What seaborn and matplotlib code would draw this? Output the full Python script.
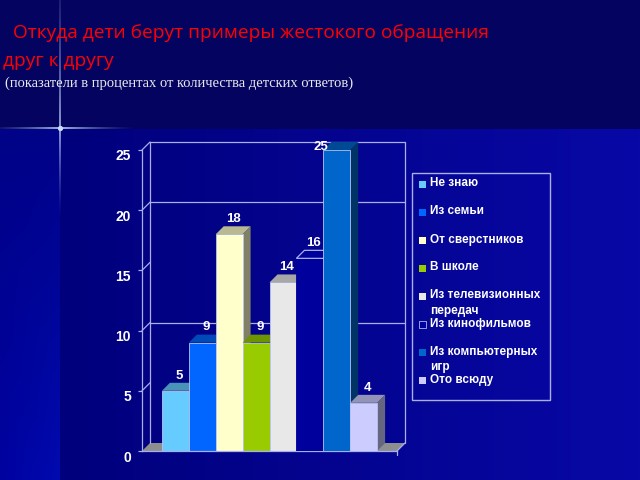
import numpy as np
import pandas as pd
import matplotlib
matplotlib.use("Agg")
import matplotlib.pyplot as plt
import seaborn as sns
from matplotlib.patches import Polygon, Rectangle
from matplotlib.collections import LineCollection
from matplotlib import font_manager as fm
from matplotlib.transforms import ScaledTranslation
import matplotlib.colors as mcolors

# ---------------- data ----------------
title_line1 = " Откуда дети берут примеры жестокого обращения"
title_line2 = "друг к другу"
subtitle = "(показатели в процентах от количества детских ответов)"
categories = ["Не знаю", "Из семьи", "От сверстников", "В школе",
              "Из телевизионных передач", "Из кинофильмов",
              "Из компьютерных игр", "Ото всюду"]
legend_labels = ["Не знаю", "Из семьи", "От сверстников", "В школе",
                 "Из телевизионных\nпередач", "Из кинофильмов",
                 "Из компьютерных\nигр", "Ото всюду"]
values = [5, 9, 18, 9, 14, 16, 25, 4]
colors = ["#66CCFF", "#0066FF", "#FFFFCC", "#99CC00",
          "#E8E8E8", "#00009C", "#0066CC", "#CCCCFF"]
y_ticks = [0, 5, 10, 15, 20, 25]
grid_levels = [10, 20]

df = pd.DataFrame({"category": categories, "value": values})

# ---------------- style ----------------
sns.set_theme(style="white")


def has_font(name):
    try:
        fm.findfont(fm.FontProperties(family=name), fallback_to_default=False)
        return True
    except Exception:
        return False


narrow = "Liberation Sans Narrow" if has_font("Liberation Sans Narrow") else "Liberation Sans"
plt.rcParams["font.family"] = ["Liberation Sans", "DejaVu Sans"]

LAV = "#A8B0EC"
W, H = 640, 480
fig = plt.figure(figsize=(6.4, 4.8), dpi=100)

# ---------------- background ----------------
bg = fig.add_axes([0, 0, 1, 1])
bg.set_xlim(0, W)
bg.set_ylim(H, 0)
bg.axis("off")
img = np.zeros((H, W, 3))
img[:129, :, :] = np.array([4, 4, 96]) / 255
xs = np.linspace(0, 1, W - 60)
lower = np.outer(1 - xs, np.array([0, 0, 124])) + np.outer(xs, np.array([8, 8, 166]))
img[129:, 60:, :] = (lower / 255)[None, :, :]
ys = np.linspace(0, 1, H - 129)[:, None]
xs2 = np.linspace(0, 1, 60)[None, :]
strip_b = 135 + 25 * ys + 15 * xs2 * ys
strip_g = 2 + 8 * ys * xs2
img[129:, :60, 0] = 0
img[129:, :60, 1] = strip_g / 255
img[129:, :60, 2] = np.clip(strip_b, 0, 255) / 255
bg.imshow(img, extent=[0, W, H, 0], aspect="auto", interpolation="bilinear")

# star flare
cx, cy = 60, 128
segs, cols = [], []
for d0 in np.arange(-60, 120, 2):
    d1 = d0 + 2
    a = max(0.0, 1 - abs(d0) / 75.0) ** 1.5
    segs.append([(cx + d0, cy), (cx + d1, cy)])
    cols.append((0.75, 0.85, 1.0, a))
for d0 in np.arange(-128, 300, 2):
    d1 = d0 + 2
    a = max(0.0, 1 - abs(d0) / (90.0 if d0 > 0 else 180.0)) ** 1.4
    segs.append([(cx, cy + d0), (cx, cy + d1)])
    cols.append((0.75, 0.85, 1.0, a * 0.85))
bg.add_collection(LineCollection(segs, colors=cols, linewidths=1.2))
bg.scatter([cx], [cy], s=14, color="white", alpha=0.9, linewidths=0)

# titles
fig.text(8 / W, 1 - 33 / H, title_line1, color="#FF0000", fontsize=13.8,
         family=["Open Sans", "DejaVu Sans"], va="center", ha="left")
fig.text(3 / W, 1 - 61 / H, title_line2, color="#FF0000", fontsize=13.8,
         family=["Open Sans", "DejaVu Sans"], va="center", ha="left")
fig.text(5 / W, 1 - 83 / H, subtitle, color="#E8E8F0", fontsize=10.5,
         family=["Liberation Serif", "DejaVu Serif"], va="center", ha="left")

# ---------------- chart ----------------
x0px, x1px, y0px, y1px = 142, 397, 451, 150
ax = fig.add_axes([x0px / W, 1 - y0px / H, (x1px - x0px) / W, (y0px - y1px) / H])
ax.set_facecolor("none")
n = len(categories)
pad = 0.74
xmin, xmax = -0.5 - pad, n - 0.5 + pad
ymax = 25

sns.barplot(data=df, x="category", y="value", hue="category", palette=colors,
            width=1, saturation=1, legend=False, ax=ax,
            edgecolor="#B8C4F4", linewidth=0.6, zorder=2)
ax.set_xlim(xmin, xmax)
ax.set_ylim(0, ymax)
dx = 8 * (xmax - xmin) / (x1px - x0px)
dy = 8 * ymax / (y0px - y1px)

# floor
ax.add_patch(Polygon([(xmin, 0), (xmax, 0), (xmax + dx, dy), (xmin + dx, dy)],
                     closed=True, facecolor="#8E8E8E", edgecolor="none",
                     clip_on=False, zorder=0.5))
# back wall
wall_kw = dict(color=LAV, lw=0.9, clip_on=False, zorder=0.6)
ax.plot([xmin + dx, xmin + dx], [dy, ymax + dy], **wall_kw)
ax.plot([xmax + dx, xmax + dx], [dy, ymax + dy], **wall_kw)
ax.plot([xmin + dx, xmax + dx], [ymax + dy, ymax + dy], **wall_kw)
ax.plot([xmax, xmax + dx], [0, dy], **wall_kw)
ax.plot([xmax, xmax], [0, -0.3], **wall_kw)
for g in grid_levels:
    ax.plot([xmin + dx, xmax + dx], [g + dy, g + dy], **wall_kw)
for t in y_ticks[1:]:
    ax.plot([xmin, xmin + dx], [t, t + dy], **wall_kw)

# 3D faces + value labels
bars = [p for p in ax.patches if isinstance(p, Rectangle)][:n]
for i, p in enumerate(bars):
    bx, bw, bh = p.get_x(), p.get_width(), p.get_height()
    fc = np.array(mcolors.to_rgb(p.get_facecolor()))
    z = 2 + i * 0.1
    p.set_zorder(z + 0.05)
    dark = fc.mean() < 0.25
    if dark:
        p.set_edgecolor(fc)
        top_fc, top_ec, side_fc = fc, LAV, fc
    else:
        top_fc, top_ec, side_fc = fc * 0.72, "none", fc * 0.5
    side = Polygon([(bx + bw, 0), (bx + bw + dx, dy), (bx + bw + dx, bh + dy), (bx + bw, bh)],
                   closed=True, facecolor=side_fc, edgecolor="none", clip_on=False, zorder=z)
    top = Polygon([(bx, bh), (bx + bw, bh), (bx + bw + dx, bh + dy), (bx + dx, bh + dy)],
                  closed=True, facecolor=top_fc, edgecolor=top_ec, lw=0.9,
                  clip_on=False, zorder=z + 0.06)
    ax.add_patch(side)
    ax.add_patch(top)
    lx, ly = bx + bw / 2 + dx / 2, bh + dy + 0.1
    if ly + 1.0 > ymax + dy:
        lx, ly = bx - dx * 0.3, ymax + dy - 0.9
    ax.text(lx, ly, f"{values[i]}", color="white", fontsize=9.5, fontweight="bold",
            ha="center", va="bottom", zorder=10, clip_on=False)

# axes styling
ax.set_xlabel("")
ax.set_ylabel("")
ax.set_xticks([])
ax.set_yticks(y_ticks)
ax.set_yticklabels([str(t) for t in y_ticks])
for s in ["top", "right"]:
    ax.spines[s].set_visible(False)
for s in ["left", "bottom"]:
    ax.spines[s].set_color(LAV)
    ax.spines[s].set_linewidth(0.9)
ax.tick_params(axis="y", left=True, length=3, width=0.9, color=LAV,
               labelcolor="white", pad=5)
for lbl in ax.get_yticklabels():
    lbl.set_fontfamily([narrow, "DejaVu Sans"])
    lbl.set_fontweight("bold")
    lbl.set_fontsize(11.5 if narrow != "Liberation Sans" else 10)
    lbl.set_transform(lbl.get_transform() + ScaledTranslation(0, -5 / 100, fig.dpi_scale_trans))

# ---------------- legend ----------------
lg_left, lg_right, lg_top, lg_bot = 412, 550, 173, 400
bg.add_patch(Rectangle((lg_left, lg_top), lg_right - lg_left, lg_bot - lg_top,
                       facecolor="none", edgecolor=LAV, lw=1.0, zorder=3))
for i, (lab, col) in enumerate(zip(legend_labels, colors)):
    yc = 184 + 28 * i
    bg.add_patch(Rectangle((419, yc - 3.5), 7, 7, facecolor=col,
                           edgecolor=("#D0D8FF" if sum(mcolors.to_rgb(col)) < 0.8 else "none"),
                           lw=0.5, zorder=4))
    bg.text(430, yc - 6.5, lab, color="white", fontsize=8.5, fontweight="bold",
            ha="left", va="top", linespacing=1.4, zorder=4)

fig.savefig("out.png", dpi=100, facecolor="#000066")
